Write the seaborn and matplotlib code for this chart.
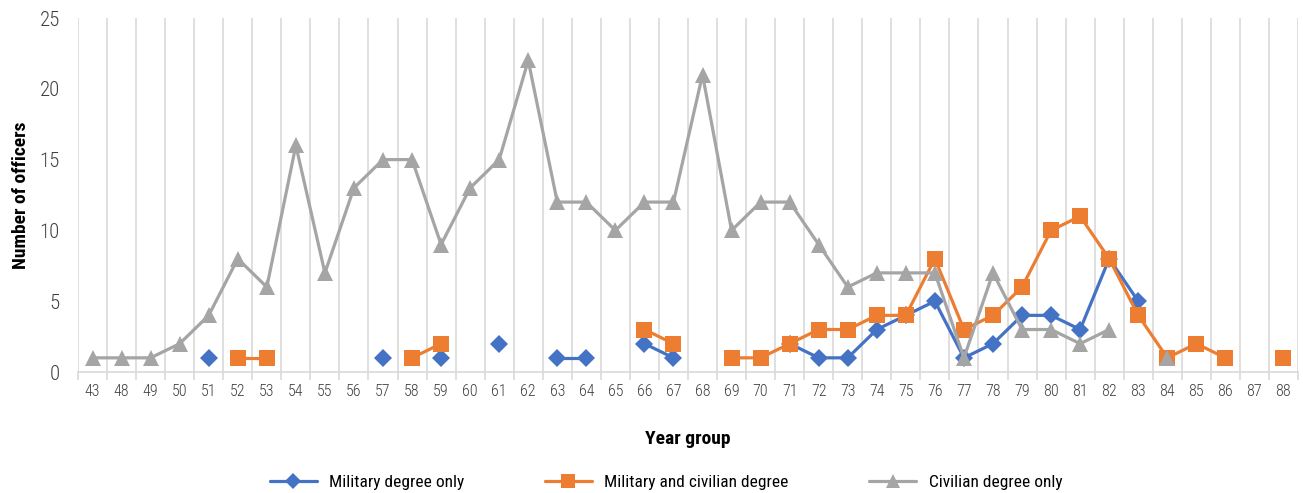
import numpy as np
import pandas as pd
import seaborn as sns
import matplotlib.pyplot as plt
from matplotlib import font_manager
from matplotlib.lines import Line2D

nan = np.nan

year_groups = ["43", "48", "49", "50", "51", "52", "53", "54", "55", "56", "57", "58",
               "59", "60", "61", "62", "63", "64", "65", "66", "67", "68", "69", "70",
               "71", "72", "73", "74", "75", "76", "77", "78", "79", "80", "81", "82",
               "83", "84", "85", "86", "87", "88"]

military_only = [nan, nan, nan, nan, 1, nan, nan, nan, nan, nan, 1, nan,
                 1, nan, 2, nan, 1, 1, nan, 2, 1, nan, nan, nan,
                 2, 1, 1, 3, 4, 5, 1, 2, 4, 4, 3, 8,
                 5, nan, nan, nan, nan, nan]

military_and_civilian = [nan, nan, nan, nan, nan, 1, 1, nan, nan, nan, nan, 1,
                         2, nan, nan, nan, nan, nan, nan, 3, 2, nan, 1, 1,
                         2, 3, 3, 4, 4, 8, 3, 4, 6, 10, 11, 8,
                         4, 1, 2, 1, nan, 1]

civilian_only = [1, 1, 1, 2, 4, 8, 6, 16, 7, 13, 15, 15,
                 9, 13, 15, 22, 12, 12, 10, 12, 12, 21, 10, 12,
                 12, 9, 6, 7, 7, 7, 1, 7, 3, 3, 2, 3,
                 nan, 1, nan, nan, nan, nan]

series_names = ["Military degree only", "Military and civilian degree", "Civilian degree only"]
series_values = [military_only, military_and_civilian, civilian_only]
colors = ["#4472C4", "#ED7D31", "#A5A5A5"]
markers = ["D", "s", "^"]
marker_sizes = [9.5, 11, 11]


def pick_narrow_font():
    """Prefer a condensed sans face; fall back to plain DejaVu Sans."""
    entries = font_manager.fontManager.ttflist
    names = {f.name for f in entries}
    for fam in ["Liberation Sans Narrow", "Roboto Condensed", "Open Sans Condensed",
                "Noto Sans Condensed", "DejaVu Sans Condensed"]:
        if fam in names:
            return fam, "normal"
    for fam in ["DejaVu Sans", "Noto Sans", "Open Sans", "Roboto"]:
        for f in entries:
            if f.name == fam and str(f.stretch) in ("condensed", "semi-condensed", "extra-condensed"):
                return fam, "condensed"
    return "DejaVu Sans", "normal"


def to_segments(values):
    """Long-form frame; consecutive non-missing points share a segment id."""
    rows = []
    seg = 0
    prev_ok = False
    for i, v in enumerate(values):
        ok = not np.isnan(v)
        if ok:
            if not prev_ok:
                seg += 1
            rows.append({"pos": i, "value": v, "seg": seg})
        prev_ok = ok
    return pd.DataFrame(rows)


sns.set_theme(style="white")
family, stretch = pick_narrow_font()
plt.rcParams["font.family"] = [family, "DejaVu Sans"]
plt.rcParams["font.stretch"] = stretch

fig, ax = plt.subplots(figsize=(13.03, 4.93), dpi=100)
fig.subplots_adjust(left=78 / 1303, right=1298 / 1303, top=1 - 18 / 493, bottom=1 - 372 / 493)

for name, vals, col, mk, ms in zip(series_names, series_values, colors, markers, marker_sizes):
    df = to_segments(vals)
    sns.lineplot(data=df, x="pos", y="value", units="seg", estimator=None,
                 color=col, linewidth=2.3, marker=mk, markersize=ms,
                 markeredgewidth=0, ax=ax, legend=False)

n = len(year_groups)
ax.set_xlim(-0.5, n - 0.5)
ax.set_ylim(0, 25)
ax.set_xticks(range(n))
ax.set_xticklabels(year_groups)
ax.set_xticks(np.arange(-0.5, n, 1.0), minor=True)
ax.set_yticks(range(0, 26, 5))

ax.grid(False)
ax.xaxis.grid(True, which="minor", color="#D9D9D9", linewidth=1.2)
ax.set_axisbelow(True)

ax.tick_params(axis="x", which="major", length=0, pad=9, labelsize=11.5, labelcolor="#404040")
ax.tick_params(axis="x", which="minor", length=6, width=1.2, color="#D9D9D9", bottom=True)
ax.tick_params(axis="y", length=0, pad=13, labelsize=15, labelcolor="#404040")
for lbl in ax.get_xticklabels() + ax.get_yticklabels():
    lbl.set_fontweight("light")

for side in ["left", "right", "top"]:
    ax.spines[side].set_visible(False)
ax.spines["bottom"].set_color("#D9D9D9")
ax.spines["bottom"].set_linewidth(1.2)

ax.set_xlabel("Year group", fontsize=14, fontweight="bold", color="black", labelpad=22)
ax.set_ylabel("Number of officers", fontsize=14, fontweight="bold", color="black", labelpad=7)

handles = [Line2D([], [], color=c, marker=m, markersize=s - 1, markeredgewidth=0, linewidth=2.3)
           for c, m, s in zip(colors, markers, marker_sizes)]
fig.legend(handles, series_names, loc="center", bbox_to_anchor=(0.511, 1 - 482 / 493),
           ncol=3, frameon=False, fontsize=12.5, handlelength=2.75, columnspacing=4.6,
           handletextpad=0.7, labelcolor="black")

fig.savefig("out.png", dpi=100)
